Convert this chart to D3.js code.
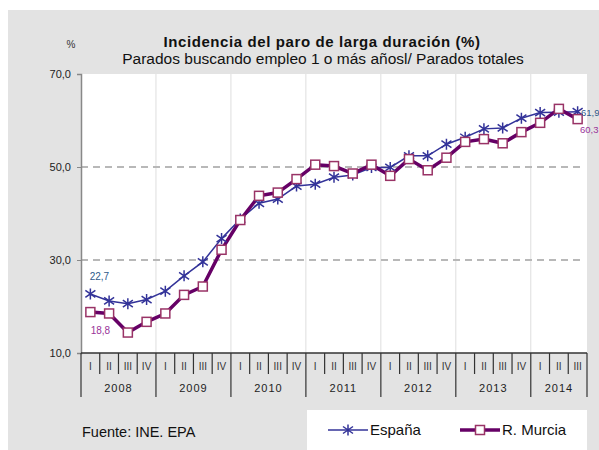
<!DOCTYPE html>
<html lang="es">

<head>
    <meta charset="UTF-8">
    <script src="https://d3js.org/d3.v7.min.js"></script>
    <title>Incidencia del paro de larga duración</title>
    <style>
        body { margin: 0; background: white; font-family: "Liberation Sans", Arial, sans-serif; }
    </style>
</head>

<body>
    <script type="text/javascript">

        // ---- data ----
        const years = ["2008", "2009", "2010", "2011", "2012", "2013", "2014"];
        const quartersPerYear = [4, 4, 4, 4, 4, 4, 3];
        const quarterLabels = ["I", "II", "III", "IV", "I", "II", "III", "IV", "I", "II", "III", "IV",
            "I", "II", "III", "IV", "I", "II", "III", "IV", "I", "II", "III", "IV", "I", "II", "III"];
        const espana = [22.7, 21.2, 20.6, 21.5, 23.3, 26.6, 29.6, 34.6, 38.8, 42.2, 43.1, 45.9,
            46.3, 47.8, 48.3, 49.9, 49.9, 52.4, 52.4, 54.9, 56.4, 58.2, 58.4, 60.5, 61.7, 61.8, 61.9];
        const murcia = [18.8, 18.5, 14.4, 16.7, 18.5, 22.5, 24.3, 32.2, 38.6, 43.8, 44.5, 47.4,
            50.5, 50.2, 48.6, 50.5, 48.1, 51.7, 49.3, 52.0, 55.4, 56.0, 55.1, 57.5, 59.5, 62.5, 60.3];
        const yTicks = [10, 30, 50, 70];

        const w = 599;
        const h = 450;
        const plot = { left: 81, right: 587, top: 74, bottom: 353 };

        const fmt = v => d3.format(".1f")(v).replace(".", ",");

        const svg = d3.select("body")
            .append("svg")
            .attr("width", w)
            .attr("height", h);

        // background
        svg.append("rect")
            .attr("x", 8).attr("y", 10)
            .attr("width", w - 8).attr("height", h - 10)
            .attr("fill", "#e3e3e3");

        svg.append("rect")
            .attr("x", plot.left).attr("y", plot.top)
            .attr("width", plot.right - plot.left).attr("height", plot.bottom - plot.top)
            .attr("fill", "white");

        // scales
        const xScale = d3.scaleBand()
            .domain(d3.range(quarterLabels.length))
            .range([plot.left, plot.right]);

        const yScale = d3.scaleLinear()
            .domain([10, 70])
            .range([plot.bottom, plot.top]);

        const bw = xScale.bandwidth();
        const cx = i => xScale(i) + bw / 2;

        // year boundaries (index of first quarter of each year)
        const yearStart = [];
        let acc = 0;
        quartersPerYear.forEach(n => { yearStart.push(acc); acc += n; });

        // vertical gridlines
        svg.append("g")
            .selectAll("line")
            .data(yearStart.slice(1))
            .enter()
            .append("line")
            .attr("x1", d => xScale(d)).attr("x2", d => xScale(d))
            .attr("y1", plot.top).attr("y2", plot.bottom)
            .attr("stroke", "#dedede")
            .attr("stroke-width", 1);

        // horizontal dashed gridlines
        svg.append("g")
            .selectAll("line")
            .data([30, 50])
            .enter()
            .append("line")
            .attr("x1", plot.left).attr("x2", plot.right - 4)
            .attr("y1", d => yScale(d)).attr("y2", d => yScale(d))
            .attr("stroke", "#b8b8b8")
            .attr("stroke-width", 2)
            .attr("stroke-dasharray", "7,5");

        // y axis
        const yAxis = d3.axisLeft(yScale)
            .tickValues(yTicks)
            .tickSize(4)
            .tickPadding(6)
            .tickFormat(fmt);

        const gy = svg.append("g")
            .attr("transform", "translate(" + plot.left + ",0)")
            .call(yAxis);
        gy.select(".domain").attr("stroke", "#888").attr("stroke-width", 1.5);
        gy.selectAll(".tick line").attr("stroke", "#888");
        gy.selectAll(".tick text")
            .attr("fill", "#222")
            .style("font-family", "Liberation Sans, Arial, sans-serif")
            .style("font-size", "11px");

        svg.append("text")
            .attr("x", 71).attr("y", 48)
            .attr("text-anchor", "middle")
            .style("font-size", "10px")
            .attr("fill", "#333")
            .text("%");

        // x axis: two-level category axis
        const gx = svg.append("g");
        gx.append("line")
            .attr("x1", plot.left).attr("x2", plot.right)
            .attr("y1", plot.bottom).attr("y2", plot.bottom)
            .attr("stroke", "#333").attr("stroke-width", 1.5);

        const qBounds = d3.range(quarterLabels.length + 1);
        gx.selectAll(".qtick")
            .data(qBounds)
            .enter()
            .append("line")
            .attr("class", "qtick")
            .attr("x1", d => d < quarterLabels.length ? xScale(d) : plot.right)
            .attr("x2", d => d < quarterLabels.length ? xScale(d) : plot.right)
            .attr("y1", plot.bottom)
            .attr("y2", d => (yearStart.includes(d) || d === quarterLabels.length) ? 397 : 374)
            .attr("stroke", "#333").attr("stroke-width", 1.2);

        gx.selectAll(".qlabel")
            .data(quarterLabels)
            .enter()
            .append("text")
            .attr("class", "qlabel")
            .attr("x", (d, i) => cx(i))
            .attr("y", 369.5)
            .attr("text-anchor", "middle")
            .style("font-size", "10px")
            .attr("fill", "#333")
            .text(d => d);

        gx.selectAll(".ylabel")
            .data(years)
            .enter()
            .append("text")
            .attr("class", "ylabel")
            .attr("x", (d, i) => {
                const a = xScale(yearStart[i]);
                const b = i + 1 < years.length ? xScale(yearStart[i + 1]) : plot.right;
                return (a + b) / 2;
            })
            .attr("y", 392)
            .attr("text-anchor", "middle")
            .style("font-size", "11px")
            .style("letter-spacing", "1px")
            .attr("fill", "#222")
            .text(d => d);

        // lines
        const line = d3.line()
            .x((d, i) => cx(i))
            .y(d => yScale(d));

        svg.append("path")
            .datum(espana)
            .attr("d", line)
            .attr("fill", "none")
            .attr("stroke", "#333399")
            .attr("stroke-width", 1.5);

        svg.append("path")
            .datum(murcia)
            .attr("d", line)
            .attr("fill", "none")
            .attr("stroke", "#660066")
            .attr("stroke-width", 3.5);

        // asterisk marker path
        const star = "M0,-5.5L0,5.5M-5,-3.5L5,3.5M-5,3.5L5,-3.5";

        svg.append("g")
            .selectAll("path")
            .data(espana)
            .enter()
            .append("path")
            .attr("transform", (d, i) => "translate(" + cx(i) + "," + yScale(d) + ")")
            .attr("d", star)
            .attr("stroke", "#333399")
            .attr("stroke-width", 1.5)
            .attr("fill", "none");

        svg.append("g")
            .selectAll("rect")
            .data(murcia)
            .enter()
            .append("rect")
            .attr("x", (d, i) => cx(i) - 4.5)
            .attr("y", d => yScale(d) - 4.5)
            .attr("width", 9).attr("height", 9)
            .attr("fill", "white")
            .attr("stroke", "#993366")
            .attr("stroke-width", 1.5);

        // value labels
        const last = espana.length - 1;
        svg.append("text")
            .attr("x", cx(0) + 9).attr("y", 280)
            .attr("text-anchor", "middle")
            .style("font-size", "10px")
            .attr("fill", "#2f5a8a")
            .text(fmt(espana[0]));
        svg.append("text")
            .attr("x", cx(0) + 10).attr("y", 334)
            .attr("text-anchor", "middle")
            .style("font-size", "10px")
            .attr("fill", "#993399")
            .text(fmt(murcia[0]));
        svg.append("text")
            .attr("x", 581).attr("y", yScale(espana[last]) + 4)
            .style("font-size", "9.5px")
            .attr("fill", "#2f5a8a")
            .text(fmt(espana[last]));
        svg.append("text")
            .attr("x", 580).attr("y", yScale(murcia[last]) + 14)
            .style("font-size", "9.5px")
            .attr("fill", "#993399")
            .text(fmt(murcia[last]));

        // titles
        svg.append("text")
            .attr("x", 322).attr("y", 47)
            .attr("text-anchor", "middle")
            .style("font-size", "15px")
            .style("font-weight", "bold")
            .style("letter-spacing", "0.6px")
            .attr("fill", "#111")
            .text("Incidencia del paro de larga duración (%)");

        svg.append("text")
            .attr("x", 323).attr("y", 64)
            .attr("text-anchor", "middle")
            .style("font-size", "15.5px")
            .attr("fill", "#111")
            .text("Parados buscando empleo 1 o más añosl/ Parados totales");

        // source
        svg.append("text")
            .attr("x", 82).attr("y", 437)
            .style("font-size", "14.5px")
            .attr("fill", "#111")
            .text("Fuente: INE. EPA");

        // legend
        const legend = svg.append("g").attr("id", "legend");
        legend.append("rect")
            .attr("x", 307).attr("y", 410)
            .attr("width", 280).attr("height", 40)
            .attr("fill", "white");

        legend.append("line")
            .attr("x1", 328).attr("x2", 368).attr("y1", 430).attr("y2", 430)
            .attr("stroke", "#333399").attr("stroke-width", 1.5);
        legend.append("path")
            .attr("transform", "translate(348,430)")
            .attr("d", star)
            .attr("stroke", "#333399").attr("stroke-width", 1.5);
        legend.append("text")
            .attr("x", 370).attr("y", 435)
            .style("font-size", "15px")
            .attr("fill", "#111")
            .text("España");

        legend.append("line")
            .attr("x1", 460).attr("x2", 500).attr("y1", 430).attr("y2", 430)
            .attr("stroke", "#660066").attr("stroke-width", 3.5);
        legend.append("rect")
            .attr("x", 475.5).attr("y", 425.5).attr("width", 9).attr("height", 9)
            .attr("fill", "white").attr("stroke", "#993366").attr("stroke-width", 1.5);
        legend.append("text")
            .attr("x", 502).attr("y", 435)
            .style("font-size", "15px")
            .attr("fill", "#111")
            .text("R. Murcia");

    </script>
</body>

</html>
